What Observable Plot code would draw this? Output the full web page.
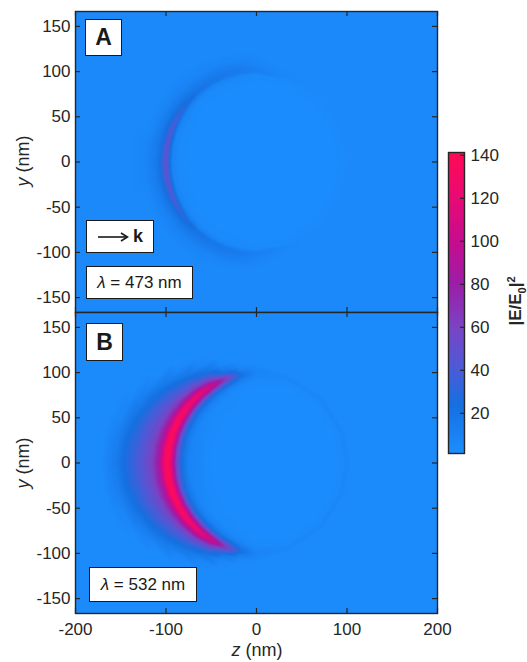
<!DOCTYPE html>
<html><head><meta charset="utf-8">
<script src="https://cdn.jsdelivr.net/npm/d3@7"></script>
<script src="https://cdn.jsdelivr.net/npm/@observablehq/plot@0.6"></script>
<style>
body{margin:0;background:#fff;}
#wrap{position:relative;width:527px;height:662px;font-family:"Liberation Sans",Arial,sans-serif;color:#262626;overflow:hidden}
#wrap svg{position:absolute}
.lab{position:absolute;white-space:nowrap;transform:translate(-50%,-50%);font-size:17px;color:#262626}
.rot{transform:translate(-50%,-50%) rotate(-90deg)}
.box{position:absolute;background:#fff;border:1.6px solid #1a1a1a;box-sizing:border-box;display:flex;align-items:center;justify-content:center;font-size:17px;color:#1a1a1a;white-space:nowrap}
</style></head><body><div id="wrap"></div>
<script>
// ---- axes / scales ----
const Z_DOMAIN = [-200, 200];
const Y_DOMAIN = [-166.5, 166.5];
const X_TICKS = [-200, -100, 0, 100, 200];
const Y_TICKS = [-150, -100, -50, 0, 50, 100, 150];
const CB_DOMAIN = [1.3, 141.3];
const CB_TICKS = [20, 40, 60, 80, 100, 120, 140];
const CMAP_VALUES = [1.3, 10, 24, 40, 60, 80, 100, 120, 141.3];
const CMAP_COLORS = ["#1b8fff", "#1a82f4", "#1570e0", "#4a5cd8", "#7a44c4", "#9c1ea8", "#c60c8e", "#e80a76", "#ff0a55"];

// ---- field samples: polar grid around the sphere ----
// angle from the -z direction (degrees), radius from the sphere centre (nm)
const THETA = [0, 10, 20, 30, 40, 50, 60, 70, 80, 90, 110, 135, 160, 180];
const RADII = [50, 75, 82, 88, 93, 97, 100, 103, 108, 115, 124, 134, 145, 156, 170, 200, 270];

// panel A, lambda = 473 nm
const FIELD_A = [
  [3, 3, 4, 5, 8, 30, 52, 38, 20, 12, 7, 6, 5, 5, 5, 5, 5],
  [3, 3, 4, 5, 8, 28, 50, 36, 20, 12, 7, 6, 5, 5, 5, 5, 5],
  [3, 3, 4, 5, 7, 25, 46, 33, 19, 11, 6, 5, 5, 5, 5, 5, 5],
  [3, 3, 4, 5, 7, 20, 38, 28, 18, 10, 6, 5, 5, 5, 5, 5, 5],
  [3, 3, 3, 4, 6, 14, 28, 24, 17, 10, 6, 5, 5, 5, 5, 5, 5],
  [3, 3, 3, 4, 5, 10, 20, 20, 15, 9, 6, 5, 5, 5, 5, 5, 5],
  [3, 3, 3, 4, 5, 8, 18, 18, 14, 8, 6, 5, 5, 5, 5, 5, 5],
  [3, 3, 3, 4, 5, 7, 16, 17, 13, 8, 5, 5, 5, 5, 5, 5, 5],
  [3, 3, 3, 4, 5, 6, 14, 15, 11, 7, 5, 5, 5, 5, 5, 5, 5],
  [3, 3, 3, 3, 4, 5, 11, 11, 8, 6, 5, 5, 5, 5, 5, 5, 5],
  [3, 3, 3, 3, 4, 5, 6, 6, 5, 5, 5, 5, 5, 5, 5, 5, 5],
  [3, 3, 3, 3, 4, 4, 5, 5, 5, 5, 5, 5, 5, 5, 5, 5, 5],
  [3, 3, 3, 3, 4, 4, 5, 5, 5, 5, 5, 5, 5, 5, 5, 5, 5],
  [3, 3, 3, 3, 4, 4, 5, 5, 5, 5, 5, 5, 5, 5, 5, 5, 5]
];

// panel B, lambda = 532 nm
const FIELD_B = [
  [3, 9, 22, 52, 105, 138, 140, 118, 85, 63, 49, 37, 27, 14, 5, 4, 4],
  [3, 9, 21, 50, 103, 137, 139, 116, 83, 61, 47, 35, 25, 12, 5, 4, 4],
  [3, 8, 19, 47, 100, 135, 138, 113, 80, 58, 44, 32, 20, 8, 4, 4, 4],
  [3, 7, 17, 42, 95, 132, 135, 108, 75, 53, 39, 26, 12, 5, 4, 4, 4],
  [3, 6, 14, 36, 86, 126, 130, 102, 68, 46, 31, 17, 5, 4, 4, 4, 4],
  [3, 5, 11, 28, 72, 116, 122, 92, 60, 37, 19, 6, 4, 4, 4, 4, 4],
  [3, 4, 8, 19, 54, 98, 105, 76, 46, 22, 7, 4, 4, 4, 4, 4, 4],
  [3, 4, 5, 11, 30, 58, 64, 42, 17, 6, 4, 4, 4, 4, 4, 4, 4],
  [3, 3, 4, 6, 12, 20, 22, 14, 6, 4, 4, 4, 4, 4, 4, 4, 4],
  [3, 3, 3, 4, 5, 7, 8, 7, 5, 4, 4, 4, 4, 4, 4, 4, 4],
  [3, 3, 3, 3, 4, 5, 7, 5, 4, 4, 4, 4, 4, 4, 4, 4, 4],
  [3, 3, 3, 3, 4, 5, 7, 5, 4, 4, 4, 4, 4, 4, 4, 4, 4],
  [3, 3, 3, 3, 4, 5, 7, 5, 4, 4, 4, 4, 4, 4, 4, 4, 4],
  [3, 3, 3, 3, 4, 5, 7, 5, 4, 4, 4, 4, 4, 4, 4, 4, 4]
];

const PANELS = ["A", "B"];
const WAVELENGTHS = ["473 nm", "532 nm"];

// ---- build the sample table Plot needs (polar -> cartesian) ----
function samples(field) {
  const out = [];
  THETA.forEach((t, i) => {
    const signs = (t === 0 || t === 180) ? [1] : [1, -1];
    const a = t * Math.PI / 180;
    for (const s of signs) {
      RADII.forEach((r, j) => out.push({z: -r * Math.cos(a), y: s * r * Math.sin(a), v: field[i][j]}));
    }
  });
  return out;
}

const W = 527, ML = 75, MR = 90, PH = 301;
const PW = W - ML - MR;
const INK = "#262626";
const BG = "#1a89fb";
const colorScale = {type: "linear", domain: CMAP_VALUES, range: CMAP_COLORS, interpolate: "rgb", clamp: true};
const svgStyle = "background:transparent;overflow:visible;font-family:'Liberation Sans',Arial,sans-serif;font-size:17px;color:#262626";
const fmt = d => String(d);

function panel(field, isBottom) {
  const marks = [
    Plot.frame({fill: BG}),
    Plot.raster(samples(field), {x: "z", y: "y", fill: "v", interpolate: "barycentric",
      x1: Z_DOMAIN[0], x2: Z_DOMAIN[1], y1: Y_DOMAIN[0], y2: Y_DOMAIN[1], pixelSize: 1}),
    Plot.tickY(Y_TICKS, {y: d => d, insetRight: PW - 5, stroke: INK, strokeWidth: 1.2}),
    Plot.tickY(Y_TICKS, {y: d => d, insetLeft: PW - 5, stroke: INK, strokeWidth: 1.2}),
    Plot.tickX(X_TICKS, {x: d => d, insetBottom: PH - 5, stroke: INK, strokeWidth: 1.2}),
    Plot.tickX(X_TICKS, {x: d => d, insetTop: PH - 5, stroke: INK, strokeWidth: 1.2}),
    Plot.frame({stroke: INK, strokeWidth: 1.4}),
    Plot.axisY(Y_TICKS, {tickSize: 0, tickPadding: 5, fontSize: 17, label: null, tickFormat: fmt})
  ];
  if (isBottom) marks.push(Plot.axisX(X_TICKS, {tickSize: 0, tickPadding: 9, fontSize: 17, label: null, tickFormat: fmt}));
  else marks.push(Plot.axisX([], {label: null}));
  return Plot.plot({
    width: W, height: isBottom ? PH + 49 : PH + 11,
    marginLeft: ML, marginRight: MR,
    marginTop: isBottom ? 0 : 11, marginBottom: isBottom ? 49 : 0,
    style: svgStyle,
    x: {domain: Z_DOMAIN},
    y: {domain: Y_DOMAIN},
    color: colorScale,
    marks
  });
}

const wrap = document.getElementById("wrap");
const pA = panel(FIELD_A, false);
pA.style.left = "0px"; pA.style.top = "0px";
wrap.appendChild(pA);
const pB = panel(FIELD_B, true);
pB.style.left = "0px"; pB.style.top = "312px";
wrap.appendChild(pB);

// colour bar
const cb = Plot.plot({
  width: 87, height: 330, marginLeft: 8, marginRight: 63, marginTop: 12, marginBottom: 17,
  style: svgStyle,
  x: {domain: [0, 1], axis: null},
  y: {domain: CB_DOMAIN},
  color: colorScale,
  marks: [
    Plot.raster({x1: 0, x2: 1, y1: CB_DOMAIN[0], y2: CB_DOMAIN[1], fill: (x, y) => y, pixelSize: 1}),
    Plot.tickY(CB_TICKS, {y: d => d, insetLeft: 12, stroke: INK, strokeWidth: 1.2}),
    Plot.frame({stroke: INK, strokeWidth: 1.4}),
    Plot.axisY(CB_TICKS, {anchor: "right", tickSize: 0, tickPadding: 6, fontSize: 17, label: null, tickFormat: fmt})
  ]
});
cb.style.left = "440px"; cb.style.top = "140px";
wrap.appendChild(cb);

// text overlays
function add(html, cls, css) {
  const d = document.createElement("div");
  d.className = cls; d.innerHTML = html; d.style.cssText += css; wrap.appendChild(d); return d;
}
add("<i>y</i> (nm)", "lab rot", "left:23px;top:161px;font-size:18px");
add("<i>y</i> (nm)", "lab rot", "left:23px;top:463px;font-size:18px");
add("<i>z</i> (nm)", "lab", "left:257px;top:650px;font-size:18px");
add("<b>|E/E<sub style='font-size:11px'>0</sub>|<sup style='font-size:11px'>2</sup></b>", "lab rot", "left:516px;top:301px");

add("<b style='font-size:23px'>" + PANELS[0] + "</b>", "box", "left:85px;top:19px;width:37px;height:37px");
add("<b style='font-size:23px'>" + PANELS[1] + "</b>", "box", "left:86px;top:323px;width:37px;height:38px");
add("<svg width='32' height='12' style='position:static;margin-right:4px'><line x1='1' y1='6' x2='30' y2='6' stroke='#1a1a1a' stroke-width='1.6'/><path d='M24,2 L30.5,6 L24,10' fill='none' stroke='#1a1a1a' stroke-width='1.6'/></svg><b style='font-size:18px'>k</b>", "box", "left:86px;top:220px;width:68px;height:33px");
add("<i>λ</i>&nbsp;= " + WAVELENGTHS[0], "box", "left:86px;top:266px;width:107px;height:33px");
add("<i>λ</i>&nbsp;= " + WAVELENGTHS[1], "box", "left:89px;top:567px;width:108px;height:35px");
</script></body></html>
